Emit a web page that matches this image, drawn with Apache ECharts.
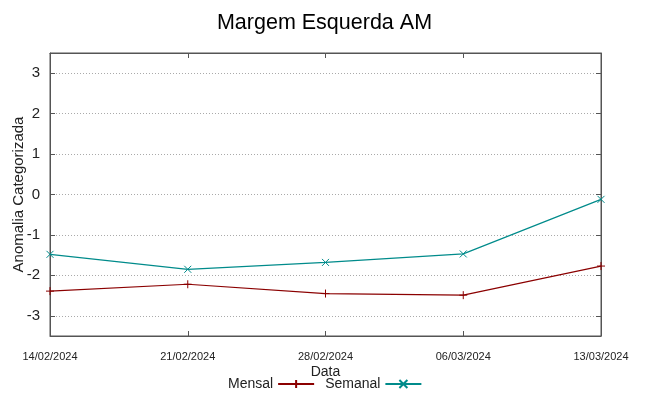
<!DOCTYPE html>
<html><head><meta charset="utf-8">
<script src="https://cdn.jsdelivr.net/npm/echarts@6/dist/echarts.min.js"></script>
<style>html,body{margin:0;padding:0;background:#fff}#c{width:649px;height:396px}</style>
</head><body><div id="c"></div>
<script>
const categories = ['14/02/2024','21/02/2024','28/02/2024','06/03/2024','13/03/2024'];
const mensal = [-2.39, -2.22, -2.45, -2.49, -1.77];
const semanal = [-1.48, -1.85, -1.68, -1.47, -0.12];
const titleText = 'Margem Esquerda AM';
const yName = 'Anomalia Categorizada';
const xName = 'Data';

const FONT = "'Liberation Sans Narrow','Liberation Sans',sans-serif";
const isInt = v => Math.abs(v - Math.round(v)) < 1e-6;
const chart = echarts.init(document.getElementById('c'), null, {renderer:'canvas'});
const plus = 'path://M0,5 L10,5 M5,0 L5,10';
const cross = 'path://M0,0 L10,10 M10,0 L0,10';
const axLine = {show:true,onZero:false,lineStyle:{color:'#555'}};
const tick = {show:true,inside:true,length:5,lineStyle:{color:'#555'}};
chart.setOption({
  animation:false,
  backgroundColor:'#fff',
  title:{text:titleText,left:'center',top:7,textStyle:{fontFamily:FONT,fontSize:21.5,fontWeight:'normal',color:'#000'}},
  grid:{left:50,right:48,top:53,bottom:60,show:true,borderColor:'#555',borderWidth:1,backgroundColor:'transparent',
    containLabel:false,outerBoundsMode:'none'},
  legend:{left:223,top:372,align:'right',itemWidth:36,itemHeight:10,itemGap:10,
    textStyle:{fontFamily:FONT,fontSize:14,color:'#222'},
    data:['Mensal','Semanal']},
  xAxis:[{type:'category',data:categories,boundaryGap:false,
    name:xName,nameLocation:'middle',nameGap:29,nameMoveOverlap:false,nameTextStyle:{fontFamily:FONT,fontSize:14,color:'#222'},
    axisLine:axLine,axisTick:tick,
    axisLabel:{fontFamily:FONT,fontSize:11,color:'#222',margin:15},
    splitLine:{show:false}},
   {type:'category',data:categories,boundaryGap:false,position:'top',
    axisLine:axLine,axisTick:tick,axisLabel:{show:false},splitLine:{show:false}}],
  yAxis:[{type:'value',min:-3.5,max:3.5,splitNumber:7,
    name:yName,nameLocation:'middle',nameGap:24,nameMoveOverlap:false,nameTextStyle:{fontFamily:FONT,fontSize:15,color:'#222'},
    axisLine:axLine,axisTick:tick,
    axisLabel:{fontFamily:FONT,fontSize:15,color:'#222',margin:10,
      formatter:v=>isInt(v)?String(Math.round(v)):'',showMinLabel:false,showMaxLabel:false},
    splitLine:{show:true,lineStyle:{color:'#aaa',type:[1,2],width:1}}},
   {type:'value',min:-3.5,max:3.5,splitNumber:7,position:'right',
    axisLine:axLine,axisTick:tick,axisLabel:{show:false},splitLine:{show:false}}],
  series:[
    {name:'Mensal',type:'line',data:mensal,color:'#8b0000',symbol:plus,symbolSize:8,showAllSymbol:true,
      lineStyle:{width:1.2,color:'#8b0000'},itemStyle:{color:'#8b0000',borderColor:'#8b0000',borderWidth:1}},
    {name:'Semanal',type:'line',data:semanal,color:'#008b8b',symbol:cross,symbolSize:7,showAllSymbol:true,
      lineStyle:{width:1.2,color:'#008b8b'},itemStyle:{color:'#008b8b',borderColor:'#008b8b',borderWidth:1}}
  ]
});
</script></body></html>
